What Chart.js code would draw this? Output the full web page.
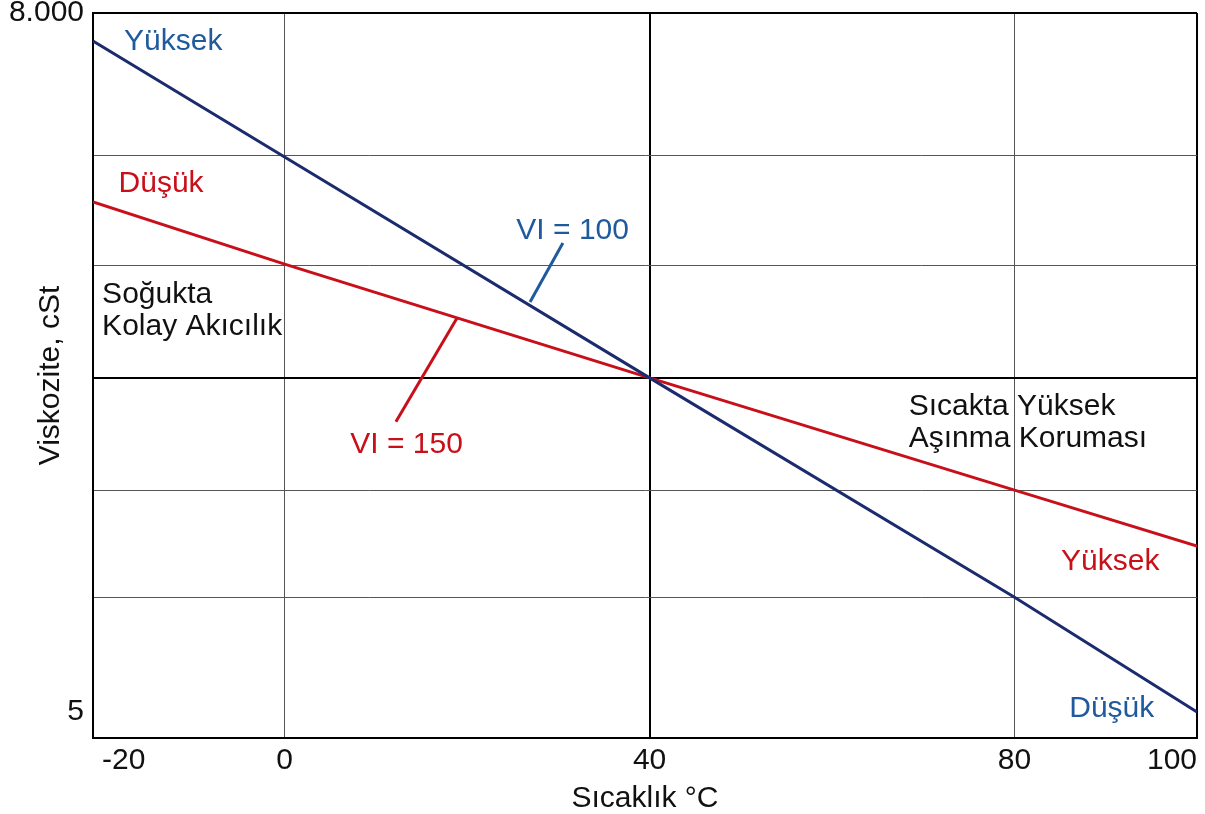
<!DOCTYPE html>
<html lang="tr">
<head>
<meta charset="UTF-8">
<script src="https://cdn.jsdelivr.net/npm/chart.js"></script>
<title>Viskozite - Sıcaklık</title>
<style>
  body { margin: 0; background: #fff; }
  #wrap { width: 1205px; height: 814px; }
</style>
</head>
<body>
<div id="wrap"><canvas id="myChart"></canvas></div>
<script>
// temperatures (°C) where the two lines were read
const temps = [-21, 0, 40, 80, 100];
// viscosity (cSt)
const vi100 = [5950, 1750, 170, 16.8, 5];
const vi150 = [1090, 565, 170, 52, 28.8];

const xTicks = [-20, 0, 40, 80, 100];
const yGrid = [5, 16.8, 52, 170, 554, 1787, 8000];
const yLabels = { 5: '5', 8000: '8.000' };

const navy = '#1b2b6d';
const red = '#c8101a';
const blueText = '#1f5a9e';
const font = '"Liberation Sans", Arial, sans-serif';

// text notes, placed in data coordinates (temperature, cSt)
const notes = [
  { lines: ['Yüksek'], x: -17.6, y: 5400, color: blueText },
  { lines: ['Düşük'], x: -18.2, y: 1210, color: red },
  { lines: ['VI = 100'], x: 25.4, y: 736, color: blueText },
  { lines: ['Soğukta', 'Kolay Akıcılık'], x: -20.0, y: 375, color: '#111' },
  { lines: ['VI = 150'], x: 7.2, y: 77, color: red },
  { lines: ['Sıcakta Yüksek', 'Aşınma Koruması'], x: 68.4, y: 115, color: '#111' },
  { lines: ['Yüksek'], x: 85.1, y: 22.4, color: red },
  { lines: ['Düşük'], x: 86.0, y: 4.74, color: blueText }
];
const leaders = [
  { from: [26.9, 379], to: [30.5, 706], color: blueText },
  { from: [12.2, 107], to: [18.9, 320], color: red }
];

const notesPlugin = {
  id: 'notes',
  afterDatasetsDraw(chart) {
    const { ctx, scales: { x, y } } = chart;
    ctx.save();
    ctx.lineWidth = 3;
    leaders.forEach(l => {
      ctx.strokeStyle = l.color;
      ctx.beginPath();
      ctx.moveTo(x.getPixelForValue(l.from[0]), y.getPixelForValue(l.from[1]));
      ctx.lineTo(x.getPixelForValue(l.to[0]), y.getPixelForValue(l.to[1]));
      ctx.stroke();
    });
    ctx.font = '30px ' + font;
    ctx.textAlign = 'left';
    ctx.textBaseline = 'alphabetic';
    notes.forEach(n => {
      ctx.fillStyle = n.color;
      const px = x.getPixelForValue(n.x);
      const py = y.getPixelForValue(n.y);
      n.lines.forEach((t, i) => ctx.fillText(t, px, py + i * 32));
    });
    ctx.restore();
  }
};

const ctx = document.getElementById('myChart').getContext('2d');
new Chart(ctx, {
  type: 'line',
  data: {
    datasets: [
      {
        label: 'VI = 100',
        data: temps.map((t, i) => ({ x: t, y: vi100[i] })),
        borderColor: navy,
        borderWidth: 3,
        pointRadius: 0,
        tension: 0
      },
      {
        label: 'VI = 150',
        data: temps.map((t, i) => ({ x: t, y: vi150[i] })),
        borderColor: red,
        borderWidth: 3,
        pointRadius: 0,
        tension: 0
      }
    ]
  },
  options: {
    responsive: true,
    maintainAspectRatio: false,
    animation: false,
    layout: { padding: { left: 0, top: 13, right: 8, bottom: 0 } },
    plugins: { legend: { display: false }, tooltip: { enabled: false } },
    scales: {
      x: {
        type: 'linear',
        min: -21,
        max: 100,
        afterBuildTicks: s => { s.ticks = xTicks.map(v => ({ value: v })); },
        afterFit: s => { s.height = 76; },
        ticks: {
          align: 'inner',
          autoSkip: false,
          maxRotation: 0,
          padding: 5,
          color: '#111',
          font: { family: font, size: 30 },
          callback: v => String(v)
        },
        grid: {
          drawTicks: false,
          color: c => c.tick.value === -20 ? 'rgba(0,0,0,0)' :
            (c.tick.value === 40 || c.tick.value === 100 ? '#000' : '#555'),
          lineWidth: c => (c.tick.value === 40 || c.tick.value === 100) ? 2 : 1
        },
        border: { color: '#000', width: 2 },
        title: {
          display: true,
          text: 'Sıcaklık °C',
          color: '#111',
          font: { family: font, size: 30, lineHeight: 1 },
          padding: { top: 0, bottom: 0 }
        }
      },
      y: {
        type: 'logarithmic',
        min: 3.8,
        max: 8000,
        afterBuildTicks: s => { s.ticks = yGrid.map(v => ({ value: v })); },
        afterFit: s => { s.width = 93; },
        ticks: {
          autoSkip: false,
          padding: 0,
          color: '#111',
          font: { family: font, size: 30, lineHeight: 0.8 },
          callback: v => yLabels[v] || ''
        },
        grid: {
          drawTicks: true,
          tickLength: 9,
          tickColor: 'rgba(0,0,0,0)',
          color: c => c.tick.value === 5 ? 'rgba(0,0,0,0)' :
            (c.tick.value === 170 || c.tick.value === 8000 ? '#000' : '#555'),
          lineWidth: c => (c.tick.value === 170 || c.tick.value === 8000) ? 2 : 1
        },
        border: { color: '#000', width: 2 },
        title: {
          display: true,
          text: 'Viskozite, cSt',
          color: '#111',
          font: { family: font, size: 30 },
          padding: { top: 33, bottom: 0 }
        }
      }
    }
  },
  plugins: [notesPlugin]
});
</script>
</body>
</html>
